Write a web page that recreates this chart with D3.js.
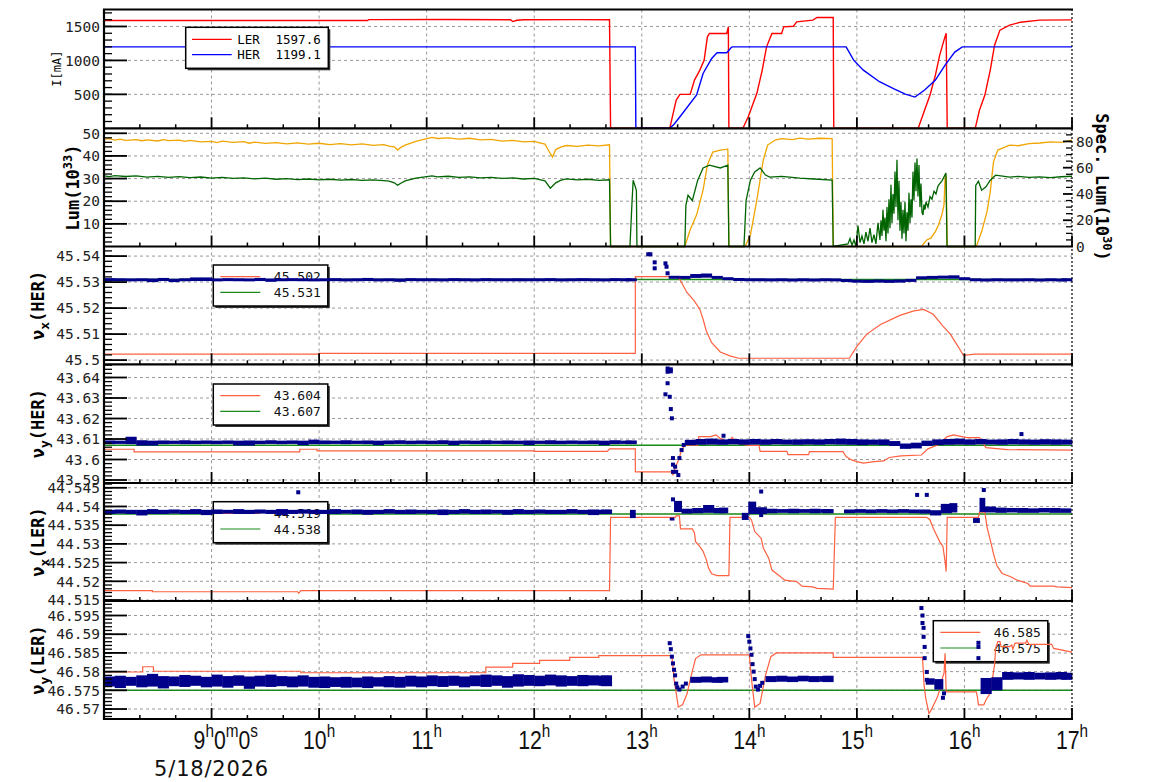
<!DOCTYPE html>
<html><head><meta charset="utf-8">
<script src="https://cdn.jsdelivr.net/npm/d3@7"></script>
<style>body{margin:0;background:#fff}svg{display:block}</style>
</head><body>
<script>
// ---------------- DATA ----------------
const hourTicks = [9,10,11,12,13,14,15,16,17];
const dateLabel = "5/18/2026";

const currentTicks = [500,1000,1500];
const lumTicks = [10,20,30,40,50];
const specTicks = [0,20,40,60,80];
const nuxHerTicks = [45.5,45.51,45.52,45.53,45.54];
const nuyHerTicks = [43.59,43.6,43.61,43.62,43.63,43.64];
const nuxLerTicks = [44.515,44.52,44.525,44.53,44.535,44.54,44.545];
const nuyLerTicks = [46.57,46.575,46.58,46.585,46.59,46.595];

const currentLegend = [["LER","1597.6"],["HER","1199.1"]];
const nuxHerLegend = ["45.502","45.531"];
const nuyHerLegend = ["43.604","43.607"];
const nuxLerLegend = ["44.519","44.538"];
const nuyLerLegend = ["46.585","46.575"];

// time in hours, value
const lerCurrent = [[8.00,1588],[10.45,1588],[10.46,1601],[11.20,1603],[11.78,1599],[11.80,1572],[11.84,1592],[11.90,1600],[12.40,1601],[12.70,1598],[12.71,0],[13.26,0],[13.32,415],[13.355,500],[13.45,500],[13.49,710],[13.54,857],[13.58,1004],[13.61,1347],[13.63,1397],[13.79,1397],[13.805,1494],[13.81,0],[13.94,0],[13.99,170],[14.07,515],[14.12,857],[14.16,1200],[14.21,1397],[14.30,1397],[14.32,1494],[14.41,1504],[14.44,1568],[14.59,1593],[14.63,1632],[14.78,1632],[14.785,0],[15.57,0],[15.63,268],[15.68,490],[15.73,784],[15.77,1078],[15.81,1299],[15.83,1401],[15.84,0],[16.10,0],[16.14,268],[16.19,490],[16.24,857],[16.28,1225],[16.33,1446],[16.42,1519],[16.52,1563],[16.70,1593],[17.00,1597]];
const herCurrent = [[8.00,1199],[12.94,1199],[12.945,0],[13.26,0],[13.30,60],[13.355,170],[13.51,490],[13.57,808],[13.65,1029],[13.70,1112],[13.79,1112],[13.83,1186],[13.84,1199],[14.90,1199],[14.97,1004],[15.06,857],[15.21,686],[15.35,578],[15.45,504],[15.54,460],[15.63,563],[15.73,710],[15.82,931],[15.91,1122],[15.98,1199],[17.00,1199]];

const luminosity = [[8.0,47.3],[8.05,47.6],[8.1,47.0],[8.15,47.4],[8.2,46.9],[8.3,47.2],[8.35,46.7],[8.4,47.1],[8.5,46.6],[8.55,47.2],[8.6,46.8],[8.7,47.0],[8.75,46.4],[8.8,46.9],[8.9,46.2],[9.0,46.4],[9.05,45.9],[9.1,46.5],[9.2,46.0],[9.3,46.3],[9.35,45.6],[9.4,46.1],[9.5,45.5],[9.6,45.9],[9.7,45.3],[9.8,45.8],[9.9,45.2],[10.0,45.6],[10.1,45.0],[10.2,45.4],[10.3,44.9],[10.4,45.3],[10.5,44.7],[10.6,45.0],[10.65,44.3],[10.7,44.0],[10.73,42.6],[10.76,43.8],[10.8,44.8],[10.9,46.4],[11.0,47.6],[11.05,48.2],[11.1,47.7],[11.2,48.0],[11.3,47.4],[11.4,47.8],[11.5,47.1],[11.6,47.3],[11.7,46.5],[11.8,46.9],[11.9,46.2],[12.0,46.4],[12.05,45.8],[12.1,45.2],[12.13,42.6],[12.17,39.5],[12.20,42.8],[12.25,44.0],[12.3,44.6],[12.4,44.2],[12.5,44.8],[12.6,44.4],[12.7,44.9],[12.71,0],[13.40,0],[13.45,7.4],[13.51,14],[13.57,25],[13.61,36],[13.66,41.7],[13.73,42.6],[13.80,43],[13.81,0],[13.96,0],[14.01,5.1],[14.07,20.6],[14.13,38.2],[14.17,44.8],[14.24,47],[14.3,47.6],[14.4,47.2],[14.47,47.9],[14.55,47.4],[14.65,47.8],[14.77,47.6],[14.78,0],[15.60,0],[15.65,2.9],[15.69,3.8],[15.73,6.6],[15.76,9.6],[15.79,14],[15.81,18.4],[15.82,30.3],[15.83,30.8],[15.84,0],[16.11,0],[16.16,6.6],[16.21,15.4],[16.24,24.2],[16.27,37.4],[16.31,42.6],[16.42,44.8],[16.5,44.5],[16.6,45.4],[16.70,45.7],[16.8,46.2],[16.9,46.0],[17.00,47]];
const specLuminosity = [[8.0,53.8],[8.05,53.2],[8.1,54.0],[8.2,53.3],[8.3,53.7],[8.4,52.9],[8.5,53.4],[8.6,52.7],[8.7,53.2],[8.8,52.5],[8.9,52.9],[9.0,52.1],[9.1,52.6],[9.2,51.8],[9.3,52.3],[9.4,51.5],[9.5,52.0],[9.6,51.2],[9.7,51.7],[9.8,50.9],[9.9,51.4],[10.0,50.7],[10.1,51.2],[10.2,50.5],[10.3,51.0],[10.4,50.3],[10.5,50.8],[10.6,50.1],[10.65,49.8],[10.7,48.5],[10.73,46.7],[10.76,48.2],[10.8,50.0],[10.9,52.0],[11.0,53.2],[11.05,53.8],[11.1,53.0],[11.2,53.5],[11.3,52.6],[11.4,53.0],[11.5,52.2],[11.6,52.6],[11.7,51.8],[11.8,52.2],[11.9,51.4],[12.0,51.8],[12.05,51.0],[12.1,50.0],[12.15,44.4],[12.2,48.5],[12.25,50.5],[12.3,51.5],[12.4,50.8],[12.5,51.2],[12.6,50.4],[12.7,50.8],[12.71,0],[12.89,0],[12.91,35],[12.92,50.5],[12.95,42.8],[12.955,0],[13.40,0],[13.41,31.3],[13.43,39],[13.47,35],[13.52,50.5],[13.57,59.8],[13.63,62],[13.73,59.8],[13.80,62],[13.81,0],[13.95,0],[13.97,35],[14.01,50.5],[14.05,56.7],[14.10,59.8],[14.15,54.4],[14.19,52.8],[14.3,53.4],[14.47,52.1],[14.6,51.4],[14.77,50.5],[14.78,0],[14.917,2],[14.936,6],[14.954,1],[14.973,5],[14.991,0],[15.010,16],[15.029,3],[15.047,8],[15.066,2],[15.084,11],[15.103,4],[15.122,14],[15.140,3],[15.159,9],[15.177,2],[15.196,18],[15.2146,5],[15.2239,20],[15.2332,8],[15.2425,28],[15.2518,12],[15.2611,22],[15.2704,4],[15.2797,30],[15.2890,10],[15.2983,36],[15.3076,14],[15.3169,47],[15.3262,18],[15.3355,40],[15.3448,25],[15.3541,57],[15.3634,30],[15.3727,66],[15.3820,20],[15.3913,50],[15.4006,12],[15.4099,34],[15.4192,6],[15.4285,28],[15.4378,10],[15.4471,34],[15.4564,4],[15.4657,26],[15.4750,12],[15.4843,41],[15.4936,18],[15.5029,36],[15.5122,22],[15.5215,57],[15.5308,35],[15.5401,64],[15.5494,42],[15.5587,67],[15.5680,38],[15.5773,62],[15.5866,30],[15.5959,48],[15.6052,26],[15.6145,24],[15.6238,32],[15.6331,28],[15.6424,34],[15.661,30],[15.680,38],[15.698,36],[15.717,42],[15.735,40],[15.754,46],[15.772,48],[15.791,50],[15.810,53],[15.828,56],[15.838,0],[16.10,0],[16.105,46.5],[16.13,49.7],[16.16,42.9],[16.20,45.4],[16.24,50.5],[16.29,54.3],[16.42,52.8],[16.5,53.4],[16.6,52.6],[16.70,53.0],[16.8,52.4],[16.9,53.1],[17.00,53.5]];

const nuxHerSet = [[8.00,45.5023],[10.0,45.5023],[10.0,45.5026],[12.94,45.5026],[12.94,45.5321],[13.34,45.5321],[13.36,45.5305],[13.42,45.5260],[13.49,45.5227],[13.54,45.5195],[13.57,45.5157],[13.60,45.5112],[13.65,45.5067],[13.73,45.5031],[13.82,45.5016],[13.90,45.5007],[14.93,45.5007],[15.00,45.5053],[15.09,45.5099],[15.22,45.5137],[15.40,45.5172],[15.53,45.5189],[15.62,45.5195],[15.71,45.5176],[15.80,45.5131],[15.87,45.5099],[15.94,45.5053],[15.99,45.5018],[16.10,45.5023],[17.00,45.5023]];
const nuxHerRef = 45.531;
const nuxHerBand = [[8.0,45.5304,45.5315],[8.1,45.5304,45.5314],[8.2,45.5303,45.5314],[8.3,45.5304,45.5314],[8.4,45.5300,45.5314],[8.5,45.5304,45.5316],[8.6,45.5300,45.5313],[8.7,45.5304,45.5314],[8.8,45.5304,45.5318],[8.9,45.5304,45.5318],[9.0,45.5303,45.5314],[9.1,45.5304,45.5315],[9.2,45.5304,45.5314],[9.3,45.5303,45.5314],[9.4,45.5304,45.5316],[9.5,45.5301,45.5314],[9.6,45.5304,45.5314],[9.7,45.5304,45.5315],[9.8,45.5304,45.5314],[9.9,45.5303,45.5314],[10.0,45.5304,45.5314],[10.1,45.5304,45.5315],[10.2,45.5303,45.5314],[10.3,45.5304,45.5314],[10.4,45.5304,45.5316],[10.5,45.5303,45.5314],[10.6,45.5304,45.5314],[10.7,45.5301,45.5314],[10.8,45.5304,45.5315],[10.9,45.5304,45.5314],[11.0,45.5304,45.5314],[11.1,45.5303,45.5314],[11.2,45.5304,45.5315],[11.3,45.5304,45.5314],[11.4,45.5303,45.5314],[11.5,45.5304,45.5315],[11.6,45.5304,45.5314],[11.7,45.5304,45.5314],[11.8,45.5303,45.5315],[11.9,45.5304,45.5314],[12.0,45.5304,45.5314],[12.1,45.5304,45.5315],[12.2,45.5303,45.5314],[12.3,45.5304,45.5314],[12.4,45.5304,45.5315],[12.5,45.5304,45.5314],[12.6,45.5303,45.5314],[12.7,45.5304,45.5315],[12.8,45.5304,45.5314],[12.85,45.5304,45.5314],[13.25,45.5314,45.5323],[13.35,45.5313,45.5323],[13.45,45.5316,45.5331],[13.55,45.5317,45.5333],[13.65,45.5313,45.5323],[13.75,45.5308,45.5318],[13.85,45.5305,45.5315],[13.95,45.5304,45.5314],[14.05,45.5304,45.5314],[14.15,45.5303,45.5314],[14.25,45.5304,45.5314],[14.35,45.5303,45.5313],[14.45,45.5304,45.5314],[14.55,45.5303,45.5313],[14.65,45.5304,45.5314],[14.75,45.5303,45.5314],[14.85,45.5301,45.5311],[14.95,45.5298,45.5309],[15.05,45.5297,45.5309],[15.15,45.5298,45.5310],[15.25,45.5297,45.5309],[15.35,45.5298,45.5310],[15.45,45.5301,45.5312],[15.55,45.5312,45.5321],[15.65,45.5313,45.5323],[15.75,45.5314,45.5324],[15.85,45.5313,45.5326],[15.95,45.5308,45.5318],[16.05,45.5304,45.5314],[16.15,45.5303,45.5313],[16.25,45.5304,45.5314],[16.35,45.5304,45.5313],[16.45,45.5303,45.5314],[16.55,45.5304,45.5314],[16.65,45.5303,45.5313],[16.75,45.5304,45.5314],[16.85,45.5303,45.5313],[16.9,45.5304,45.5314]];
const nuxHerPts = [[13.06,45.5407],[13.08,45.5407],[13.12,45.5376],[13.12,45.5353],[13.22,45.5372],[13.23,45.5359],[13.24,45.5334]];

const nuyHerSet = [[8.00,43.6050],[8.28,43.6050],[8.28,43.6037],[9.82,43.6037],[9.82,43.6050],[9.98,43.6050],[9.98,43.6042],[12.0,43.6042],[12.0,43.6040],[12.68,43.6040],[12.70,43.6052],[12.94,43.6052],[12.94,43.5940],[13.27,43.5940],[13.29,43.5925],[13.31,43.5960],[13.34,43.5995],[13.37,43.6045],[13.40,43.6070],[13.52,43.6070],[13.53,43.6112],[13.64,43.6112],[13.69,43.6120],[13.73,43.6103],[13.78,43.6090],[13.81,43.6078],[13.84,43.6108],[13.88,43.6085],[13.92,43.6077],[13.99,43.6069],[14.09,43.6069],[14.10,43.6040],[14.35,43.6040],[14.36,43.6024],[14.55,43.6024],[14.56,43.6038],[14.87,43.6038],[14.90,43.6014],[14.95,43.5998],[15.00,43.5990],[15.06,43.5982],[15.16,43.5990],[15.25,43.5993],[15.30,43.6010],[15.41,43.6018],[15.60,43.6022],[15.66,43.6052],[15.75,43.6071],[15.84,43.6112],[15.90,43.6120],[16.02,43.6107],[16.14,43.6107],[16.20,43.6058],[16.40,43.6048],[17.00,43.6046]];
const nuyHerRef = 43.607;
const nuyHerBand = [[8.0,43.6075,43.6093],[8.1,43.6076,43.6092],[8.2,43.6075,43.6111],[8.3,43.6068,43.6094],[8.4,43.6068,43.6092],[8.5,43.6075,43.6093],[8.6,43.6076,43.6092],[8.7,43.6075,43.6094],[8.8,43.6075,43.6092],[8.9,43.6076,43.6093],[9.0,43.6075,43.6092],[9.1,43.6076,43.6093],[9.2,43.6068,43.6092],[9.3,43.6068,43.6093],[9.4,43.6075,43.6092],[9.5,43.6076,43.6094],[9.6,43.6075,43.6092],[9.7,43.6076,43.6093],[9.8,43.6070,43.6092],[9.9,43.6075,43.6097],[10.0,43.6075,43.6093],[10.1,43.6076,43.6092],[10.2,43.6075,43.6094],[10.3,43.6076,43.6092],[10.4,43.6075,43.6093],[10.5,43.6070,43.6092],[10.6,43.6075,43.6093],[10.7,43.6076,43.6094],[10.8,43.6075,43.6092],[10.9,43.6076,43.6093],[11.0,43.6075,43.6092],[11.1,43.6075,43.6094],[11.2,43.6070,43.6092],[11.3,43.6076,43.6093],[11.4,43.6075,43.6092],[11.5,43.6075,43.6094],[11.6,43.6076,43.6092],[11.7,43.6075,43.6093],[11.8,43.6075,43.6092],[11.9,43.6070,43.6093],[12.0,43.6076,43.6092],[12.1,43.6075,43.6094],[12.2,43.6075,43.6092],[12.3,43.6076,43.6093],[12.4,43.6075,43.6092],[12.5,43.6075,43.6093],[12.6,43.6070,43.6092],[12.7,43.6075,43.6094],[12.8,43.6076,43.6092],[12.85,43.6075,43.6093],[13.4,43.6070,43.6096],[13.5,43.6072,43.6100],[13.6,43.6073,43.6102],[13.7,43.6072,43.6098],[13.8,43.6074,43.6100],[13.9,43.6072,43.6098],[14.0,43.6073,43.6100],[14.1,43.6072,43.6098],[14.2,43.6074,43.6100],[14.3,43.6073,43.6097],[14.4,43.6072,43.6098],[14.5,43.6073,43.6099],[14.6,43.6072,43.6098],[14.7,43.6074,43.6100],[14.8,43.6073,43.6102],[14.9,43.6072,43.6100],[15.0,43.6070,43.6098],[15.1,43.6072,43.6097],[15.2,43.6070,43.6098],[15.3,43.6066,43.6090],[15.4,43.6052,43.6078],[15.5,43.6054,43.6082],[15.6,43.6066,43.6092],[15.7,43.6070,43.6098],[15.8,43.6072,43.6100],[15.9,43.6073,43.6102],[16.0,43.6072,43.6098],[16.1,43.6074,43.6100],[16.2,43.6073,43.6097],[16.3,43.6072,43.6098],[16.4,43.6074,43.6100],[16.5,43.6073,43.6098],[16.6,43.6072,43.6097],[16.7,43.6073,43.6099],[16.8,43.6072,43.6098],[16.9,43.6073,43.6097]];
const nuyHerPts = [[13.24,43.6428],[13.24,43.6444],[13.27,43.6430],[13.27,43.6440],[13.24,43.6372],[13.22,43.6318],[13.26,43.6306],[13.27,43.6246],[13.28,43.6201],[13.29,43.5940],[13.29,43.5975],[13.29,43.6007],[13.31,43.5965],[13.32,43.5940],[13.34,43.5924],[13.35,43.6007],[13.37,43.6046],[13.39,43.6071],[13.76,43.6116],[16.53,43.6124]];

const nuxLerSet = [[8.00,44.5175],[8.45,44.5175],[8.45,44.5172],[9.80,44.5172],[9.81,44.5168],[9.83,44.5175],[12.70,44.5175],[12.71,44.5371],[13.31,44.5371],[13.32,44.5375],[13.35,44.5375],[13.36,44.5340],[13.47,44.5340],[13.49,44.5329],[13.50,44.5306],[13.54,44.5293],[13.57,44.5280],[13.60,44.5258],[13.62,44.5236],[13.65,44.5220],[13.70,44.5215],[13.81,44.5215],[13.82,44.5371],[14.00,44.5371],[14.02,44.5364],[14.05,44.5333],[14.11,44.5315],[14.13,44.5289],[14.18,44.5262],[14.21,44.5230],[14.27,44.5217],[14.33,44.5203],[14.44,44.5199],[14.49,44.5187],[14.59,44.5185],[14.63,44.5181],[14.78,44.5179],[14.80,44.5371],[15.65,44.5371],[15.68,44.5364],[15.71,44.5342],[15.74,44.5324],[15.77,44.5306],[15.80,44.5293],[15.82,44.5253],[15.83,44.5226],[15.84,44.5371],[16.13,44.5371],[16.14,44.5385],[16.19,44.5385],[16.21,44.5345],[16.24,44.5310],[16.27,44.5274],[16.30,44.5243],[16.35,44.5221],[16.43,44.5212],[16.49,44.5203],[16.59,44.5194],[16.61,44.5187],[16.83,44.5187],[16.86,44.5185],[17.00,44.5183]];
const nuxLerRef = 44.538;
const nuxLerBand = [[8.0,44.5380,44.5391],[8.1,44.5381,44.5392],[8.2,44.5380,44.5391],[8.3,44.5376,44.5391],[8.4,44.5380,44.5393],[8.5,44.5380,44.5391],[8.6,44.5381,44.5392],[8.7,44.5380,44.5391],[8.8,44.5380,44.5393],[8.9,44.5377,44.5391],[9.0,44.5380,44.5392],[9.1,44.5381,44.5391],[9.2,44.5380,44.5393],[9.3,44.5380,44.5391],[9.4,44.5381,44.5392],[9.5,44.5380,44.5391],[9.6,44.5377,44.5393],[9.7,44.5380,44.5391],[9.8,44.5381,44.5392],[9.9,44.5380,44.5391],[10.0,44.5380,44.5391],[10.1,44.5380,44.5393],[10.2,44.5381,44.5391],[10.3,44.5380,44.5392],[10.4,44.5378,44.5391],[10.5,44.5380,44.5391],[10.6,44.5381,44.5393],[10.7,44.5380,44.5391],[10.8,44.5380,44.5392],[10.9,44.5381,44.5391],[11.0,44.5380,44.5391],[11.1,44.5377,44.5392],[11.2,44.5380,44.5391],[11.3,44.5381,44.5393],[11.4,44.5380,44.5391],[11.5,44.5380,44.5392],[11.6,44.5381,44.5391],[11.7,44.5378,44.5391],[11.8,44.5380,44.5393],[11.9,44.5380,44.5391],[12.0,44.5381,44.5392],[12.1,44.5380,44.5391],[12.2,44.5380,44.5391],[12.3,44.5381,44.5393],[12.4,44.5380,44.5391],[12.5,44.5377,44.5392],[12.6,44.5380,44.5391],[12.62,44.5380,44.5392],[12.89,44.5369,44.5391,0.05],[13.26,44.5364,44.5369,0.04],[13.30,44.5385,44.5415,0.07],[13.37,44.5381,44.5394],[13.47,44.5382,44.5396],[13.57,44.5383,44.5404],[13.67,44.5382,44.5396],[13.72,44.5382,44.5397,0.08],[13.93,44.5364,44.5383,0.06],[13.99,44.5380,44.5413,0.07],[14.06,44.5380,44.5398],[14.16,44.5382,44.5394],[14.26,44.5383,44.5393],[14.36,44.5382,44.5394],[14.46,44.5383,44.5393],[14.56,44.5382,44.5394],[14.66,44.5383,44.5393],[14.68,44.5382,44.5393],[14.88,44.5382,44.5392],[14.98,44.5383,44.5393],[15.08,44.5382,44.5392],[15.18,44.5383,44.5393],[15.28,44.5382,44.5392],[15.38,44.5383,44.5393],[15.48,44.5382,44.5392],[15.58,44.5381,44.5392],[15.68,44.5376,44.5390],[15.78,44.5382,44.5407],[15.86,44.5384,44.5409,0.07],[16.08,44.5356,44.5369,0.06],[16.14,44.5385,44.5423,0.05],[16.19,44.5384,44.5400],[16.29,44.5383,44.5397],[16.39,44.5384,44.5396],[16.49,44.5383,44.5396],[16.59,44.5383,44.5395],[16.69,44.5384,44.5396],[16.79,44.5383,44.5396],[16.89,44.5383,44.5395]];
const nuxLerPts = [[9.806,44.5438],[13.29,44.5419],[14.11,44.5440],[14.11,44.5377],[15.56,44.5431],[15.65,44.5431],[16.18,44.5444]];

const nuyLerSet = [[8.00,46.5799],[8.36,46.5799],[8.36,46.5813],[8.46,46.5813],[8.46,46.5801],[9.83,46.5801],[9.83,46.5797],[11.55,46.5797],[11.55,46.5812],[11.80,46.5812],[11.80,46.5822],[12.05,46.5822],[12.05,46.5830],[12.33,46.5830],[12.33,46.5838],[12.60,46.5838],[12.60,46.5843],[13.28,46.5843],[13.30,46.5780],[13.34,46.5705],[13.38,46.5712],[13.42,46.5740],[13.46,46.5790],[13.50,46.5835],[13.55,46.5845],[14.00,46.5845],[14.02,46.5780],[14.05,46.5705],[14.10,46.5715],[14.15,46.5790],[14.20,46.5840],[14.25,46.5850],[14.78,46.5850],[14.78,46.5838],[15.61,46.5838],[15.625,46.5764],[15.64,46.5729],[15.66,46.5702],[15.67,46.5688],[15.69,46.5697],[15.72,46.5715],[15.75,46.5733],[15.77,46.5751],[15.79,46.5778],[15.81,46.5796],[15.82,46.5849],[15.83,46.5746],[16.11,46.5746],[16.12,46.5733],[16.13,46.5711],[16.18,46.5711],[16.20,46.5724],[16.23,46.5738],[16.25,46.5760],[16.27,46.5800],[16.28,46.5818],[16.29,46.5862],[16.31,46.5880],[16.33,46.5880],[16.34,46.5867],[16.42,46.5867],[16.44,46.5871],[16.45,46.5860],[16.47,46.5876],[16.57,46.5876],[16.58,46.5884],[16.60,46.5873],[16.81,46.5873],[16.83,46.5862],[17.00,46.5852]];
const nuyLerRef = 46.575;
const nuyLerBand = [[8.0,46.5760,46.5787],[8.1,46.5756,46.5789],[8.2,46.5762,46.5786],[8.3,46.5758,46.5790],[8.4,46.5760,46.5794],[8.5,46.5755,46.5788],[8.6,46.5761,46.5787],[8.7,46.5759,46.5791],[8.8,46.5762,46.5789],[8.9,46.5758,46.5786],[9.0,46.5760,46.5792],[9.1,46.5757,46.5788],[9.2,46.5762,46.5790],[9.3,46.5754,46.5787],[9.4,46.5760,46.5789],[9.5,46.5759,46.5792],[9.6,46.5761,46.5788],[9.7,46.5758,46.5787],[9.8,46.5760,46.5790],[9.9,46.5757,46.5786],[10.0,46.5756,46.5787],[10.1,46.5759,46.5785],[10.2,46.5757,46.5786],[10.3,46.5758,46.5784],[10.4,46.5756,46.5787],[10.5,46.5760,46.5785],[10.6,46.5758,46.5788],[10.7,46.5757,46.5786],[10.8,46.5760,46.5789],[10.9,46.5758,46.5787],[11.0,46.5761,46.5790],[11.1,46.5759,46.5788],[11.2,46.5762,46.5789],[11.3,46.5758,46.5787],[11.4,46.5761,46.5790],[11.5,46.5759,46.5792],[11.6,46.5762,46.5790],[11.7,46.5757,46.5788],[11.8,46.5760,46.5793],[11.9,46.5762,46.5791],[12.0,46.5761,46.5789],[12.1,46.5763,46.5792],[12.2,46.5760,46.5790],[12.3,46.5762,46.5788],[12.4,46.5761,46.5791],[12.5,46.5763,46.5790],[12.6,46.5762,46.5789],[12.62,46.5761,46.5790],[13.45,46.5770,46.5786],[13.55,46.5771,46.5787],[13.65,46.5770,46.5785],[13.70,46.5771,46.5786],[14.15,46.5772,46.5788],[14.25,46.5773,46.5789],[14.35,46.5772,46.5787],[14.45,46.5774,46.5789],[14.55,46.5772,46.5788],[14.65,46.5773,46.5788],[14.68,46.5772,46.5789],[15.64,46.5765,46.5782,0.08],[15.72,46.5752,46.5780,0.08],[16.15,46.5740,46.5783],[16.25,46.5750,46.5785],[16.35,46.5778,46.5799],[16.45,46.5779,46.5798],[16.55,46.5778,46.5799],[16.65,46.5779,46.5797],[16.75,46.5778,46.5798],[16.85,46.5779,46.5799],[16.9,46.5778,46.5797]];
const nuyLerPts = [[13.26,46.5876],[13.27,46.5860],[13.28,46.5840],[13.29,46.5822],[13.30,46.5805],[13.31,46.5790],[13.32,46.5768],[13.33,46.5758],[13.35,46.5752],[13.38,46.5760],[13.41,46.5768],[13.99,46.5895],[14.00,46.5880],[14.01,46.5862],[14.02,46.5845],[14.03,46.5820],[14.04,46.5800],[14.05,46.5780],[14.06,46.5760],[14.08,46.5752],[14.10,46.5762],[14.12,46.5770],[15.60,46.5970],[15.61,46.5950],[15.61,46.5930],[15.62,46.5917],[15.62,46.5893],[15.63,46.5866],[15.63,46.5836],[15.65,46.5799],[15.65,46.5778],[15.80,46.5730],[15.81,46.5742],[16.13,46.5877],[16.13,46.5866],[16.13,46.5836]];

// ---------------- DRAWING ----------------
const W = 1154, H = 782;
const svg = d3.select("body").append("svg").attr("width", W).attr("height", H);
const X0 = 104, X1 = 1072;
const xS = d3.scaleLinear().domain([8, 17]).range([X0, X1]);
const mono = "DejaVu Sans Mono";

const panels = [
  {top: 9.5, bot: 128.3, dom: [0, 1750], ticks: currentTicks, minor: 100},
  {top: 128.3, bot: 246.5, dom: [0, 52.2], ticks: lumTicks, minor: 2},
  {top: 246.5, bot: 364.3, dom: [45.49838, 45.54369], ticks: nuxHerTicks, minor: 0.002},
  {top: 364.3, bot: 483, dom: [43.58854, 43.64644], ticks: nuyHerTicks, minor: 0.002},
  {top: 483, bot: 601, dom: [44.51473, 44.54628], ticks: nuxLerTicks, minor: 0.001},
  {top: 601, bot: 719, dom: [46.56733, 46.59888], ticks: nuyLerTicks, minor: 0.001}
];
panels.forEach(p => p.y = d3.scaleLinear().domain(p.dom).range([p.bot, p.top]));
const specY = d3.scaleLinear().domain([0, 90]).range([246.5, 128.3]);

const fmt = v => String(+v.toFixed(4));

// grid
const gGrid = svg.append("g");
panels.forEach(p => {
  hourTicks.filter(h => h < 17).forEach(h => {
    gGrid.append("line").attr("x1", xS(h)).attr("x2", xS(h)).attr("y1", p.top).attr("y2", p.bot)
      .attr("stroke", "#999").attr("stroke-width", 1).attr("stroke-dasharray", "3,3");
  });
  p.ticks.forEach(t => {
    const yy = p.y(t);
    if (yy < p.top + 1 || yy > p.bot - 1) return;
    gGrid.append("line").attr("x1", X0).attr("x2", X1).attr("y1", yy).attr("y2", yy)
      .attr("stroke", "#999").attr("stroke-width", 1).attr("stroke-dasharray", "3,3");
  });
});

function drawLine(data, y, color, w) {
  svg.append("path").datum(data)
    .attr("d", d3.line().x(d => xS(d[0])).y(d => y(d[1])))
    .attr("fill", "none").attr("stroke", color).attr("stroke-width", w).attr("stroke-linejoin", "miter");
}
function drawRef(v, y, color) {
  svg.append("line").attr("x1", X0).attr("x2", X1).attr("y1", y(v)).attr("y2", y(v))
    .attr("stroke", color).attr("stroke-width", 1.5);
}
function drawBand(band, pts, y) {
  const g = svg.append("g").attr("fill", "#00008b");
  g.selectAll("rect.b").data(band).enter().append("rect")
    .attr("x", d => xS(d[0]))
    .attr("width", d => xS(d[0] + (d[3] || 0.1)) - xS(d[0]) + 0.4)
    .attr("y", d => Math.min(y(d[2]), (y(d[1]) + y(d[2])) / 2 - 1.5))
    .attr("height", d => Math.max(3, y(d[1]) - y(d[2])));
  g.selectAll("rect.p").data(pts).enter().append("rect")
    .attr("x", d => xS(d[0]) - 2).attr("y", d => y(d[1]) - 2).attr("width", 4).attr("height", 4);
}
function legendBox(x, y, w, h) {
  svg.append("rect").attr("x", x + 2).attr("y", y + 2).attr("width", w).attr("height", h).attr("fill", "#333");
  svg.append("rect").attr("x", x).attr("y", y).attr("width", w).attr("height", h)
    .attr("fill", "#fff").attr("stroke", "#000").attr("stroke-width", 1.5);
}
function tuneLegend(x, y, vals, colors) {
  legendBox(x, y, 114.5, 41);
  vals.forEach((v, i) => {
    const yy = y + 11.7 + i * 15.6;
    svg.append("line").attr("x1", x + 7).attr("x2", x + 47).attr("y1", yy).attr("y2", yy)
      .attr("stroke", colors[i]).attr("stroke-width", 1.2);
    svg.append("text").attr("x", x + 107.5).attr("y", yy + 4.5).attr("text-anchor", "end")
      .attr("font-family", mono).attr("font-size", 13).attr("fill", "#111").text(v);
  });
}

const ORANGE = "#ff6040", GREEN = "#1a8a1a";

// Panel 1 : currents
drawLine(lerCurrent, panels[0].y, "#ff0000", 1.4);
drawLine(herCurrent, panels[0].y, "#0000ff", 1.4);
legendBox(185.7, 27.3, 142.6, 41);
currentLegend.forEach((d, i) => {
  const yy = 39.3 + i * 15.4;
  svg.append("line").attr("x1", 192).attr("x2", 231.7).attr("y1", yy).attr("y2", yy)
    .attr("stroke", i === 0 ? "#ff0000" : "#0000ff").attr("stroke-width", 1.2);
  svg.append("text").attr("x", 237.3).attr("y", yy + 4.5).attr("font-family", mono).attr("font-size", 12.5).text(d[0]);
  svg.append("text").attr("x", 320.7).attr("y", yy + 4.5).attr("text-anchor", "end")
    .attr("font-family", mono).attr("font-size", 12.5).text(d[1]);
});

// Panel 2 : luminosity
drawLine(luminosity, panels[1].y, "#f0a500", 1.3);
drawLine(specLuminosity, specY, "#006400", 1.3);

// Panel 3
drawRef(nuxHerRef, panels[2].y, GREEN);
tuneLegend(213.3, 265, nuxHerLegend, [ORANGE, GREEN]);
drawLine(nuxHerSet, panels[2].y, ORANGE, 1.2);
drawBand(nuxHerBand, nuxHerPts, panels[2].y);

// Panel 4
drawRef(nuyHerRef, panels[3].y, GREEN);
tuneLegend(213.3, 384, nuyHerLegend, [ORANGE, GREEN]);
drawLine(nuyHerSet, panels[3].y, ORANGE, 1.2);
drawBand(nuyHerBand, nuyHerPts, panels[3].y);

// Panel 5
drawRef(nuxLerRef, panels[4].y, GREEN);
tuneLegend(213.3, 501.7, nuxLerLegend, [ORANGE, GREEN]);
drawLine(nuxLerSet, panels[4].y, ORANGE, 1.2);
drawBand(nuxLerBand, nuxLerPts, panels[4].y);

// Panel 6
tuneLegend(933.3, 620.7, nuyLerLegend, [ORANGE, GREEN]);
drawRef(nuyLerRef, panels[5].y, GREEN);
drawLine(nuyLerSet, panels[5].y, ORANGE, 1.2);
drawBand(nuyLerBand, nuyLerPts, panels[5].y);

// axes / frames
const gAx = svg.append("g").attr("stroke", "#000");
const minorX = d3.range(8 + 1/3, 17, 1/3).filter(h => Math.abs(h - Math.round(h)) > 0.01);
panels.forEach((p, i) => {
  gAx.append("line").attr("x1", X0 - 1).attr("x2", X1 + 1).attr("y1", p.bot).attr("y2", p.bot).attr("stroke-width", 2.2);
  hourTicks.forEach(h => gAx.append("line").attr("x1", xS(h)).attr("x2", xS(h)).attr("y1", p.bot).attr("y2", p.bot - 11).attr("stroke-width", 1.8));
  minorX.forEach(h => gAx.append("line").attr("x1", xS(h)).attr("x2", xS(h)).attr("y1", p.bot).attr("y2", p.bot - 4).attr("stroke-width", 1.5));
  const lo = Math.ceil(p.dom[0] / p.minor - 1e-6);
  const hi = Math.floor(p.dom[1] / p.minor + 1e-6);
  for (let k = lo; k <= hi; k++) {
    const v = k * p.minor;
    const yy = p.y(v);
    if (yy < p.top + 0.5 || yy > p.bot - 0.5) continue;
    gAx.append("line").attr("x1", X0).attr("x2", X0 + 8).attr("y1", yy).attr("y2", yy).attr("stroke-width", 1.3);
  }
  p.ticks.forEach(t => {
    const yy = p.y(t);
    gAx.append("line").attr("x1", X0).attr("x2", X0 + 23).attr("y1", yy).attr("y2", yy).attr("stroke-width", 1.8);
    svg.append("text").attr("x", 100).attr("y", yy).attr("dy", "0.36em").attr("text-anchor", "end")
      .attr("font-family", mono).attr("font-size", 14.5).attr("fill", "#222").text(fmt(t));
  });
});
for (let v = 5; v < 90; v += 5) {
  const yy = specY(v);
  const major = specTicks.includes(v);
  gAx.append("line").attr("x1", X1).attr("x2", X1 - (major ? 9 : 6)).attr("y1", yy).attr("y2", yy).attr("stroke-width", major ? 1.8 : 1.3);
}
specTicks.forEach(v => {
  svg.append("text").attr("x", 1076).attr("y", specY(v)).attr("dy", "0.36em")
    .attr("font-family", mono).attr("font-size", 14.5).attr("fill", "#222").text(v);
});
gAx.append("line").attr("x1", X0 - 1).attr("x2", X1 + 1).attr("y1", 9.5).attr("y2", 9.5).attr("stroke-width", 2);
gAx.append("line").attr("x1", X0).attr("x2", X0).attr("y1", 9).attr("y2", 720).attr("stroke-width", 2.2);
gAx.append("line").attr("x1", X1).attr("x2", X1).attr("y1", 9).attr("y2", 720).attr("stroke-width", 1.2).attr("stroke-dasharray", "2,2");

// axis titles
svg.append("text").attr("transform", "translate(61,68.7) rotate(-90)").attr("text-anchor", "middle")
  .attr("font-family", mono).attr("font-size", 12).text("I[mA]");
function supTitle(tr, base, sup, after) {
  const t = svg.append("text").attr("transform", tr).attr("text-anchor", "middle")
    .attr("font-family", mono).attr("font-size", 17).attr("font-weight", "bold");
  t.append("tspan").text(base);
  t.append("tspan").attr("dy", -7).attr("font-size", 12).text(sup);
  t.append("tspan").attr("dy", 7).text(after);
}
supTitle("translate(79,187.5) rotate(-90)", "Lum(10", "33", ")");
supTitle("translate(1096,187) rotate(90)", "Spec. Lum(10", "30", ")");
function nuTitle(cy, sub, ring) {
  const t = svg.append("text").attr("transform", `translate(44,${cy}) rotate(-90)`).attr("text-anchor", "middle")
    .attr("font-family", mono).attr("font-size", 17).attr("font-weight", "bold");
  t.append("tspan").text("ν");
  t.append("tspan").attr("dy", 5).attr("font-size", 13).text(sub);
  t.append("tspan").attr("dy", -5).text("(" + ring + ")");
}
nuTitle(305.4, "x", "HER");
nuTitle(423.6, "y", "HER");
nuTitle(542, "x", "LER");
nuTitle(660, "y", "LER");

// x labels (narrow sans)
hourTicks.forEach(h => {
  const anchorX = h === 9 ? xS(h) - 18 : xS(h);
  const t = svg.append("text").attr("transform", `translate(${anchorX},749) scale(0.85,1)`)
    .attr("font-family", "Liberation Sans").attr("font-size", 25).attr("fill", "#111")
    .attr("text-anchor", h === 9 ? "start" : "middle");
  if (h === 9) {
    t.append("tspan").text("9");
    t.append("tspan").attr("dy", -12).attr("font-size", 18).text("h");
    t.append("tspan").attr("dy", 12).text("0");
    t.append("tspan").attr("dy", -12).attr("font-size", 18).text("m");
    t.append("tspan").attr("dy", 12).text("0");
    t.append("tspan").attr("dy", -12).attr("font-size", 18).text("s");
  } else {
    t.append("tspan").text(String(h));
    t.append("tspan").attr("dy", -12).attr("font-size", 18).text("h");
  }
});
svg.append("text").attr("x", xS(9)).attr("y", 776).attr("text-anchor", "middle")
  .attr("font-family", "DejaVu Sans").attr("font-size", 21).attr("letter-spacing", 0.8).attr("fill", "#111").text(dateLabel);
</script>
</body></html>
